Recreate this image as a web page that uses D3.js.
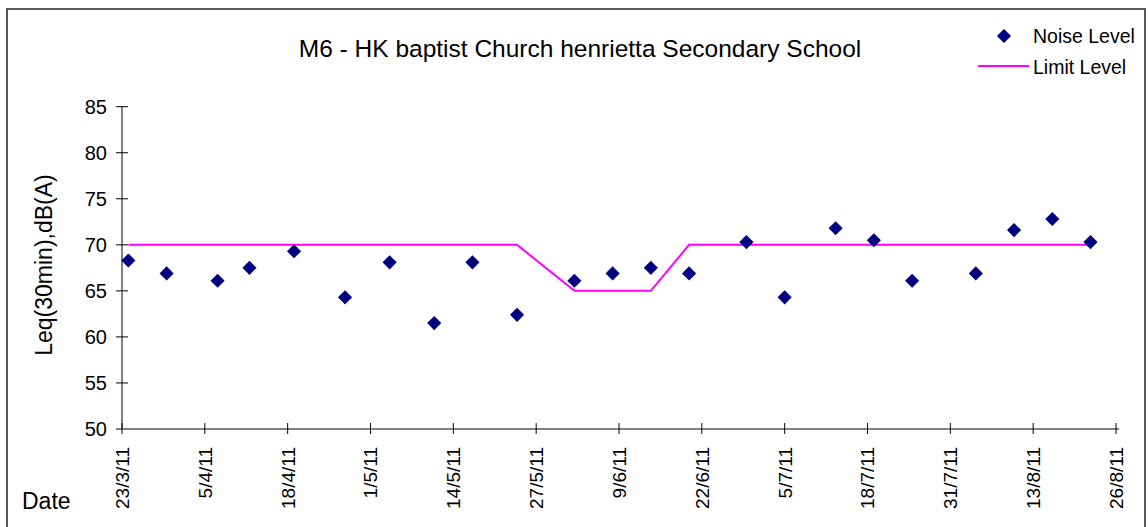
<!DOCTYPE html>
<html>
<head>
<meta charset="utf-8">
<script src="https://cdn.jsdelivr.net/npm/d3@7/dist/d3.min.js"></script>
<style>
  html, body { margin: 0; padding: 0; background: #fff; }
  svg { display: block; font-family: "Liberation Sans", Arial, sans-serif; }
</style>
</head>
<body>
<svg id="chart" width="1148" height="527"></svg>
<script>
// ---- data ----
const dates = ["2011-03-24","2011-03-30","2011-04-07","2011-04-12","2011-04-19","2011-04-27",
  "2011-05-04","2011-05-11","2011-05-17","2011-05-24","2011-06-02","2011-06-08","2011-06-14",
  "2011-06-20","2011-06-29","2011-07-05","2011-07-13","2011-07-19","2011-07-25","2011-08-04",
  "2011-08-10","2011-08-16","2011-08-22"];
const noiseLevel = [68.3,66.9,66.1,67.5,69.3,64.3,68.1,61.5,68.1,62.4,66.1,66.9,67.5,66.9,
  70.3,64.3,71.8,70.5,66.1,66.9,71.6,72.8,70.3];
const limitLevel = [70,70,70,70,70,70,70,70,70,70,65,65,65,70,70,70,70,70,70,70,70,70,70];
const xTickDates = ["2011-03-23","2011-04-05","2011-04-18","2011-05-01","2011-05-14","2011-05-27",
  "2011-06-09","2011-06-22","2011-07-05","2011-07-18","2011-07-31","2011-08-13","2011-08-26"];
const yTicks = [50,55,60,65,70,75,80,85];
const titleText = "M6 - HK baptist Church henrietta Secondary School";
const yTitle = "Leq(30min),dB(A)";
const xTitle = "Date";
const seriesNames = ["Noise Level","Limit Level"];

// ---- drawing ----
const parse = d3.utcParse("%Y-%m-%d");
const fmt = d3.utcFormat("%-d/%-m/%y");
const svg = d3.select("#chart");

const x = d3.scaleUtc()
  .domain([parse(xTickDates[0]), parse(xTickDates[xTickDates.length-1])])
  .range([122, 1116]);
const y = d3.scaleLinear().domain([50, 85]).range([429, 106.7]);

// outer border
svg.append("rect").attr("x", 7).attr("y", 9).attr("width", 1138).attr("height", 530)
  .attr("fill", "none").attr("stroke", "#222").attr("stroke-width", 1.5);

// y axis
const yAxis = svg.append("g");
yAxis.append("line").attr("x1", 122).attr("x2", 122).attr("y1", y(85)).attr("y2", y(50))
  .attr("stroke", "#808080").attr("stroke-width", 2);
yAxis.selectAll("line.t").data(yTicks).join("line").attr("class","t")
  .attr("x1", 116).attr("x2", 128).attr("y1", d => y(d)).attr("y2", d => y(d))
  .attr("stroke", "#000").attr("stroke-width", 1);
yAxis.selectAll("text").data(yTicks).join("text")
  .attr("x", 107).attr("y", d => y(d)).attr("dy", "0.36em")
  .attr("text-anchor", "end").attr("font-size", 20).attr("fill", "#000")
  .text(d => d);

// x axis
const xAxis = svg.append("g");
xAxis.append("line").attr("x1", 122).attr("x2", 1119).attr("y1", 429).attr("y2", 429)
  .attr("stroke", "#808080").attr("stroke-width", 2);
xAxis.selectAll("line.t").data(xTickDates).join("line").attr("class","t")
  .attr("x1", d => x(parse(d))).attr("x2", d => x(parse(d)))
  .attr("y1", 423).attr("y2", 434)
  .attr("stroke", "#000").attr("stroke-width", 1);
xAxis.selectAll("text").data(xTickDates).join("text")
  .attr("transform", d => `translate(${x(parse(d))},447) rotate(-90)`)
  .attr("dy", "0.36em").attr("text-anchor", "end")
  .attr("font-size", 19).attr("fill", "#000")
  .text(d => fmt(parse(d)));

// limit line
const pts = dates.map((d, i) => ({date: parse(d), noise: noiseLevel[i], limit: limitLevel[i]}));
svg.append("path").datum(pts)
  .attr("d", d3.line().x(d => x(d.date)).y(d => y(d.limit)))
  .attr("fill", "none").attr("stroke", "#FF00FF").attr("stroke-width", 2);

// noise diamonds
const diamond = d3.symbol().type(d3.symbolSquare).size(100);
svg.selectAll("path.pt").data(pts).join("path").attr("class", "pt")
  .attr("d", diamond)
  .attr("transform", d => `translate(${x(d.date)},${y(d.noise)}) rotate(45)`)
  .attr("fill", "#000080");

// title
svg.append("text").attr("x", 580).attr("y", 57).attr("text-anchor", "middle")
  .attr("font-size", 24.5).attr("fill", "#000").text(titleText);

// axis titles
svg.append("text").attr("transform", "translate(52,265) rotate(-90)")
  .attr("text-anchor", "middle").attr("font-size", 23).attr("fill", "#000").text(yTitle);
svg.append("text").attr("x", 22).attr("y", 509).attr("font-size", 23).attr("fill", "#000").text(xTitle);

// legend
svg.append("path").attr("d", diamond).attr("transform", "translate(1004,36) rotate(45)")
  .attr("fill", "#000080");
svg.append("text").attr("x", 1033).attr("y", 43).attr("font-size", 19.5).attr("fill", "#000").text(seriesNames[0]);
svg.append("line").attr("x1", 978).attr("x2", 1029).attr("y1", 66).attr("y2", 66)
  .attr("stroke", "#FF00FF").attr("stroke-width", 2);
svg.append("text").attr("x", 1033).attr("y", 74).attr("font-size", 19.5).attr("fill", "#000").text(seriesNames[1]);
</script>
</body>
</html>
